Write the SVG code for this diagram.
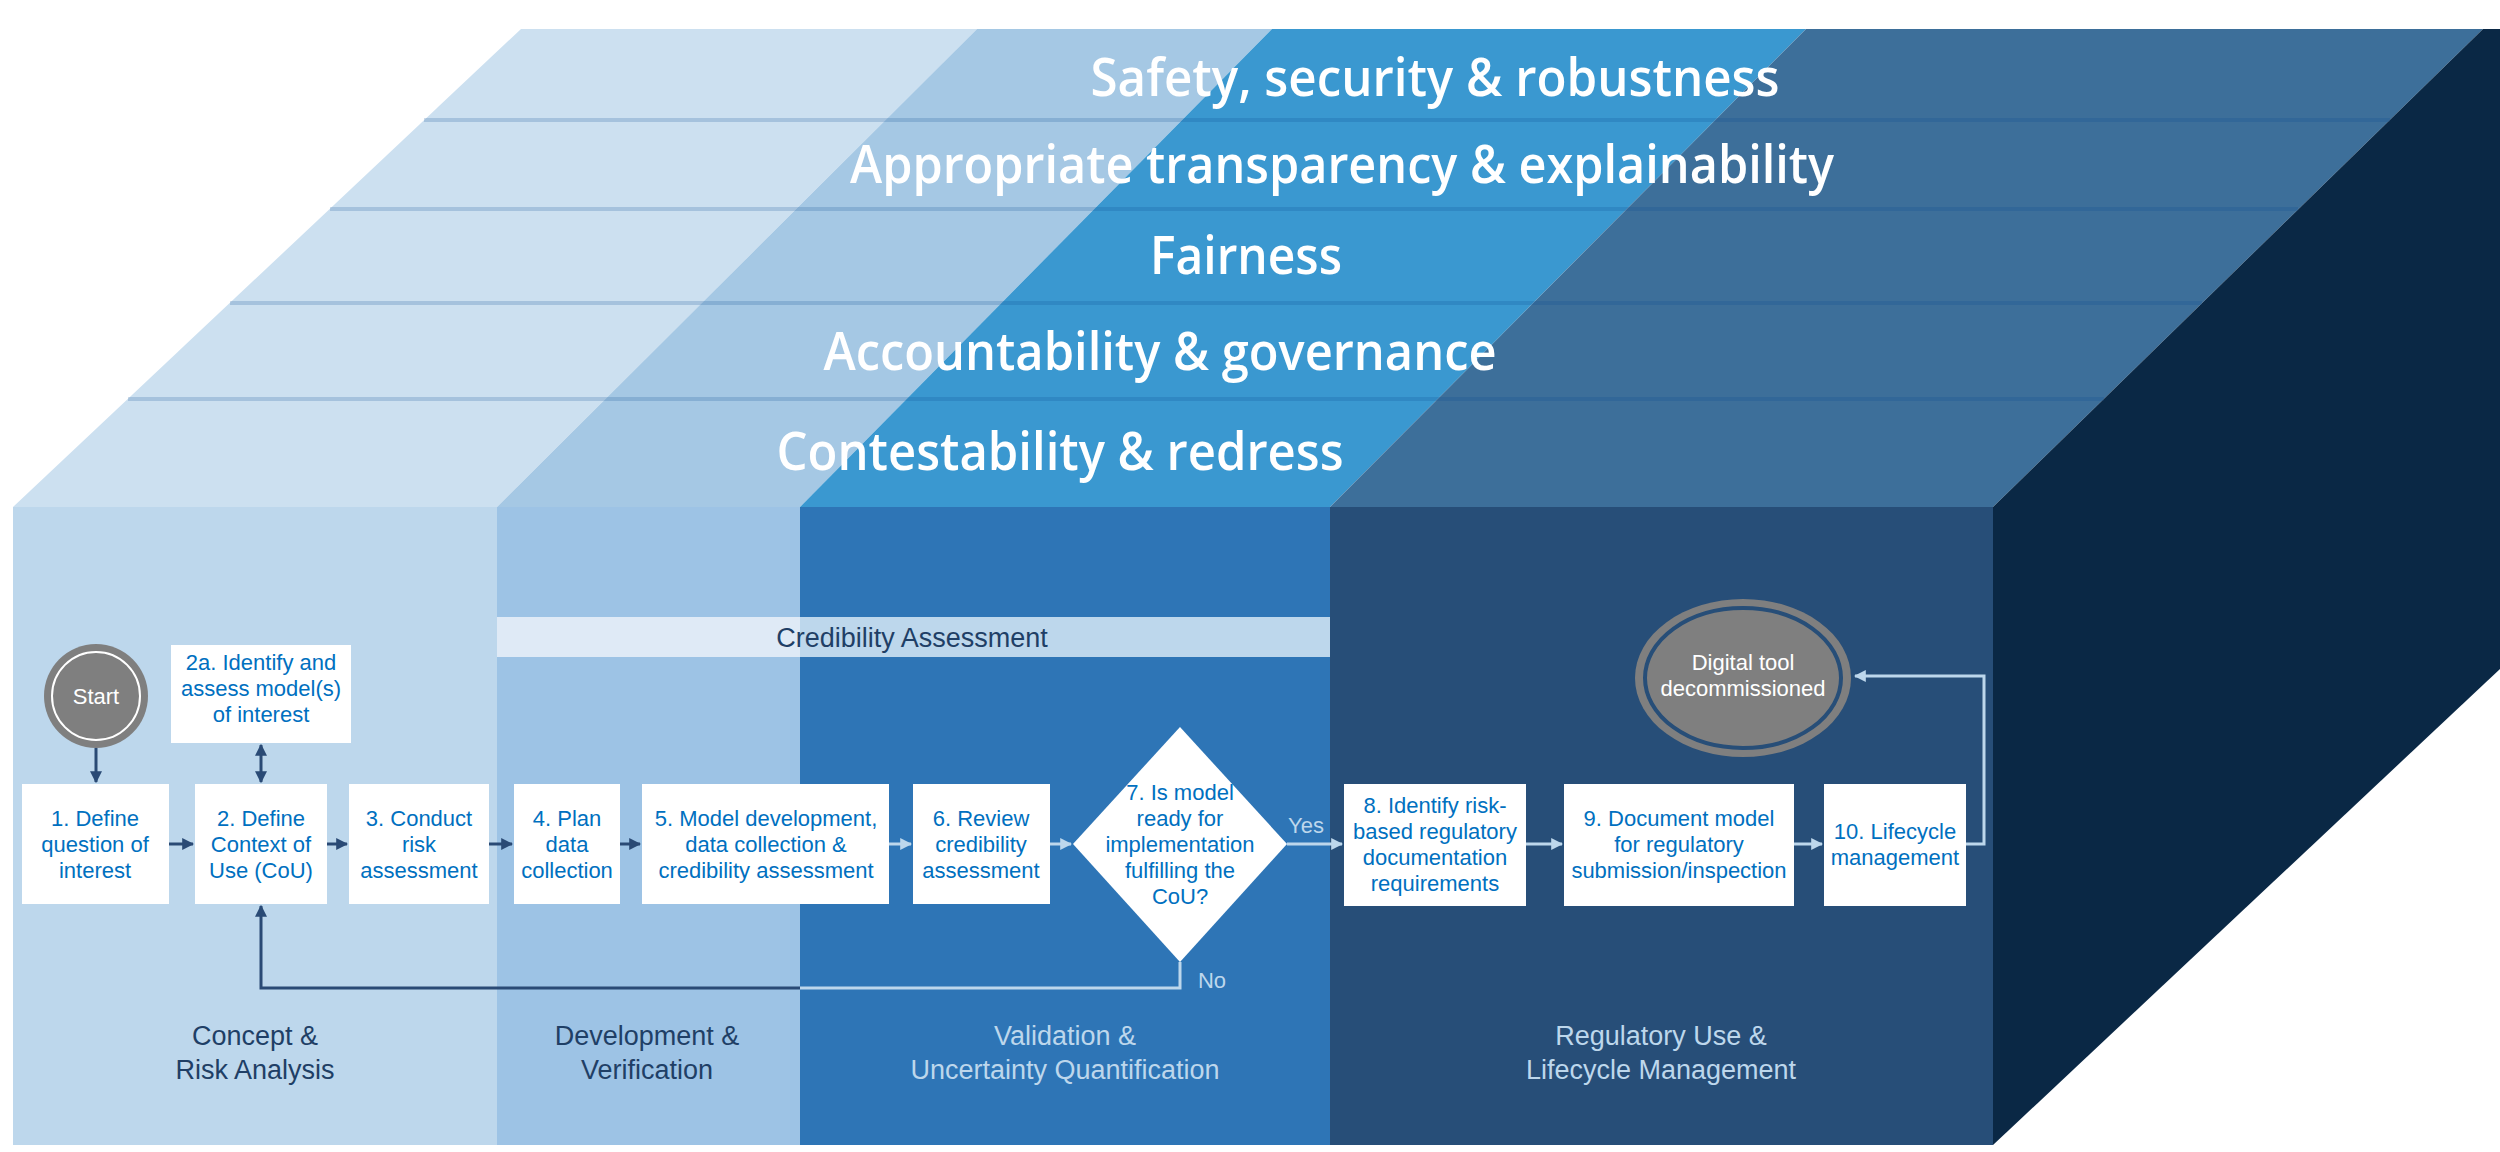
<svg xmlns="http://www.w3.org/2000/svg" width="2500" height="1152" viewBox="0 0 2500 1152">
<defs>
<style>
.h{font-family:"Open Sans","Noto Sans",sans-serif;font-weight:600;font-size:52px;fill:#fff;text-anchor:middle}
.bx{fill:#fff}
.t{font-family:"Liberation Sans",Arial,sans-serif;font-size:22px;fill:#0070c0;text-anchor:middle}
.st{font-family:"Liberation Sans",Arial,sans-serif;font-size:27px;text-anchor:middle}
.dk{stroke:#2a4a75;stroke-width:3;fill:none}
.lt{stroke:#bdd7ec;stroke-width:3;fill:none}
.band{stroke-width:4}
</style>
<marker id="ad" viewBox="0 0 10 10" refX="9" refY="5" markerWidth="4" markerHeight="4" orient="auto-start-reverse"><path d="M0,0L10,5L0,10z" fill="#2a4a75"/></marker>
<marker id="al" viewBox="0 0 10 10" refX="9" refY="5" markerWidth="4" markerHeight="4" orient="auto-start-reverse"><path d="M0,0L10,5L0,10z" fill="#bdd7ec"/></marker>
</defs>
<rect width="2500" height="1152" fill="#fff"/>
<g id="cube">
<polygon points="13,507 521,29 977,29 497,507" fill="#cce0f0"/>
<polygon points="497,507 977,29 1272,29 800,507" fill="#a5c8e4"/>
<polygon points="800,507 1272,29 1806,29 1330,507" fill="#3a98d0"/>
<polygon points="1330,507 1806,29 2483,29 1993,507" fill="#3d6f9a"/>
<polygon points="1993,507 2483,29 2500,29 2500,669 1993,1145" fill="#0a2845"/>
<rect x="13" y="507" width="484" height="638" fill="#bdd7ec"/>
<rect x="497" y="507" width="303" height="638" fill="#9dc3e5"/>
<rect x="800" y="507" width="530" height="638" fill="#2e75b6"/>
<rect x="1330" y="507" width="663" height="638" fill="#274e78"/>
<g class="band" stroke="#0a4a90" stroke-opacity="0.2">
<line x1="424" y1="120" x2="2390" y2="120"/>
<line x1="330" y1="209" x2="2298" y2="209"/>
<line x1="230" y1="303" x2="2202" y2="303"/>
<line x1="128" y1="399" x2="2104" y2="399"/>
</g>
<text class="h" x="1435" y="96" textLength="689" lengthAdjust="spacingAndGlyphs">Safety, security &amp; robustness</text>
<text class="h" x="1342" y="183" textLength="984" lengthAdjust="spacingAndGlyphs">Appropriate transparency &amp; explainability</text>
<text class="h" x="1246" y="274" textLength="192" lengthAdjust="spacingAndGlyphs">Fairness</text>
<text class="h" x="1160" y="370" textLength="673" lengthAdjust="spacingAndGlyphs">Accountability &amp; governance</text>
<text class="h" x="1060" y="470" textLength="567" lengthAdjust="spacingAndGlyphs">Contestability &amp; redress</text>
</g>
<g id="credibility">
<rect x="497" y="617" width="303" height="40" fill="#dfeaf6"/>
<rect x="800" y="617" width="530" height="40" fill="#bdd7ec"/>
<text class="st" x="912" y="647" fill="#1f3f66">Credibility Assessment</text>
</g>
<g id="stages">
<text class="st" x="255" y="1045" fill="#1f3f66">Concept &amp;</text>
<text class="st" x="255" y="1079" fill="#1f3f66">Risk Analysis</text>
<text class="st" x="647" y="1045" fill="#1f3f66">Development &amp;</text>
<text class="st" x="647" y="1079" fill="#1f3f66">Verification</text>
<text class="st" x="1065" y="1045" fill="#bdd7ec">Validation &amp;</text>
<text class="st" x="1065" y="1079" fill="#bdd7ec">Uncertainty Quantification</text>
<text class="st" x="1661" y="1045" fill="#bdd7ec">Regulatory Use &amp;</text>
<text class="st" x="1661" y="1079" fill="#bdd7ec">Lifecycle Management</text>
</g>
<g id="connectors">
<line class="dk" x1="96" y1="748" x2="96" y2="782" marker-end="url(#ad)"/>
<line class="dk" x1="261" y1="745" x2="261" y2="782" marker-start="url(#ad)" marker-end="url(#ad)"/>
<line class="dk" x1="169" y1="844" x2="193" y2="844" marker-end="url(#ad)"/>
<line class="dk" x1="327" y1="844" x2="347" y2="844" marker-end="url(#ad)"/>
<line class="dk" x1="489" y1="844" x2="512" y2="844" marker-end="url(#ad)"/>
<line class="dk" x1="620" y1="844" x2="640" y2="844" marker-end="url(#ad)"/>
<line class="lt" x1="889" y1="844" x2="911" y2="844" marker-end="url(#al)"/>
<line class="lt" x1="1050" y1="844" x2="1071" y2="844" marker-end="url(#al)"/>
<line class="lt" x1="1287" y1="844" x2="1342" y2="844" marker-end="url(#al)"/>
<line class="lt" x1="1526" y1="844" x2="1562" y2="844" marker-end="url(#al)"/>
<line class="lt" x1="1794" y1="844" x2="1822" y2="844" marker-end="url(#al)"/>
<polyline class="lt" points="1180,962 1180,988 800,988"/>
<polyline class="dk" points="800,988 261,988 261,906" marker-end="url(#ad)"/>
<polyline class="lt" points="1966,844 1984,844 1984,676 1855,676" marker-end="url(#al)"/>
<text class="t" x="1306" y="833" style="fill:#bdd7ec">Yes</text>
<text class="t" x="1212" y="988" style="fill:#bdd7ec">No</text>
</g>
<g id="start">
<circle cx="96" cy="696" r="52" fill="#7f7f7f"/>
<circle cx="96" cy="696" r="44" fill="none" stroke="#fff" stroke-width="2"/>
<text class="t" x="96" y="704" style="fill:#fff">Start</text>
</g>
<g id="end">
<ellipse cx="1743" cy="678" rx="108" ry="79" fill="#7f7f7f"/>
<ellipse cx="1743" cy="678" rx="98" ry="70" fill="none" stroke="#274e78" stroke-width="4"/>
<text class="t" x="1743" y="670" style="fill:#fff">Digital tool</text>
<text class="t" x="1743" y="696" style="fill:#fff">decommissioned</text>
</g>
<g id="n2a"><rect class="bx" x="171" y="645" width="180" height="98"/>
<text class="t" x="261" y="670">2a. Identify and</text><text class="t" x="261" y="696">assess model(s)</text><text class="t" x="261" y="722">of interest</text></g>
<g id="n1"><rect class="bx" x="22" y="784" width="147" height="120"/>
<text class="t" x="95" y="826">1. Define</text><text class="t" x="95" y="852">question of</text><text class="t" x="95" y="878">interest</text></g>
<g id="n2"><rect class="bx" x="195" y="784" width="132" height="120"/>
<text class="t" x="261" y="826">2. Define</text><text class="t" x="261" y="852">Context of</text><text class="t" x="261" y="878">Use (CoU)</text></g>
<g id="n3"><rect class="bx" x="349" y="784" width="140" height="120"/>
<text class="t" x="419" y="826">3. Conduct</text><text class="t" x="419" y="852">risk</text><text class="t" x="419" y="878">assessment</text></g>
<g id="n4"><rect class="bx" x="514" y="784" width="106" height="120"/>
<text class="t" x="567" y="826">4. Plan</text><text class="t" x="567" y="852">data</text><text class="t" x="567" y="878">collection</text></g>
<g id="n5"><rect class="bx" x="642" y="784" width="247" height="120"/>
<text class="t" x="766" y="826">5. Model development,</text><text class="t" x="766" y="852">data collection &amp;</text><text class="t" x="766" y="878">credibility assessment</text></g>
<g id="n6"><rect class="bx" x="913" y="784" width="137" height="120"/>
<text class="t" x="981" y="826">6. Review</text><text class="t" x="981" y="852">credibility</text><text class="t" x="981" y="878">assessment</text></g>
<g id="n7"><polygon class="bx" points="1180,727 1287,844 1180,962 1073,844"/>
<text class="t" x="1180" y="800">7. Is model</text><text class="t" x="1180" y="826">ready for</text><text class="t" x="1180" y="852">implementation</text><text class="t" x="1180" y="878">fulfilling the</text><text class="t" x="1180" y="904">CoU?</text></g>
<g id="n8"><rect class="bx" x="1344" y="784" width="182" height="122"/>
<text class="t" x="1435" y="813">8. Identify risk-</text><text class="t" x="1435" y="839">based regulatory</text><text class="t" x="1435" y="865">documentation</text><text class="t" x="1435" y="891">requirements</text></g>
<g id="n9"><rect class="bx" x="1564" y="784" width="230" height="122"/>
<text class="t" x="1679" y="826">9. Document model</text><text class="t" x="1679" y="852">for regulatory</text><text class="t" x="1679" y="878">submission/inspection</text></g>
<g id="n10"><rect class="bx" x="1824" y="784" width="142" height="122"/>
<text class="t" x="1895" y="839">10. Lifecycle</text><text class="t" x="1895" y="865">management</text></g>
</svg>
